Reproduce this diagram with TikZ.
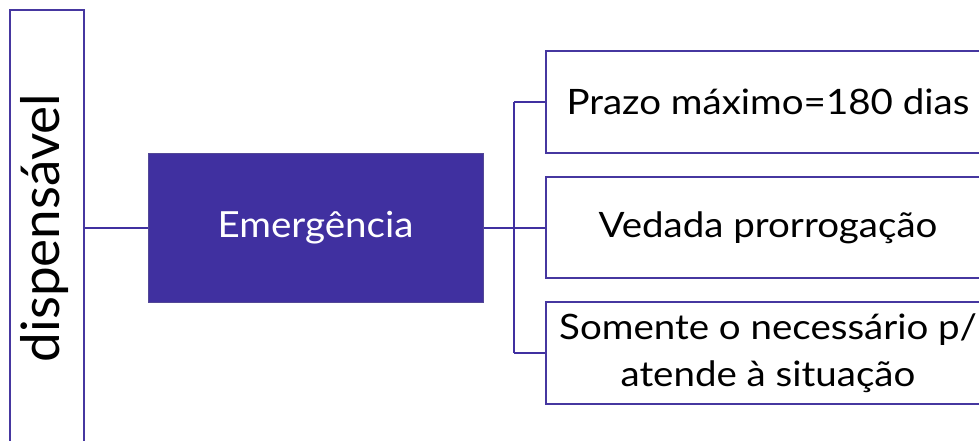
\documentclass[tikz,border=0pt]{standalone}
\usepackage{fontspec}
\setmainfont{Lato}
\definecolor{purp}{RGB}{64,48,160}
\definecolor{edge}{RGB}{70,55,160}
\begin{document}
\begin{tikzpicture}[x=1pt,y=-1pt,
  box/.style={draw=edge,line width=2pt,fill=white,inner sep=0pt,align=center,text=black},
  boxtext/.style={font=\fontsize{35}{47}\selectfont},
  link/.style={draw=purp,line width=2pt}]
\useasboundingbox (0,0) rectangle (979,441);
\clip (0,0) rectangle (979,441);
\node[box,minimum width=74pt,minimum height=436pt] (disp) at (47,228) {};
\node[rotate=90,font=\fontsize{53}{58}\selectfont,inner sep=0pt] (disptext) at (45,228) {dispensável};
\node[draw=purp!70!gray,line width=1pt,fill=purp,minimum width=335pt,minimum height=149pt,text=white,font=\fontsize{36}{40}\selectfont] (emerg) at (315.5,227.5) {\scalebox{1.07}[1]{Emergência}};
\node[box,minimum width=444pt,minimum height=102pt,boxtext] (b1) at (768,102) {\scalebox{1.1}[1]{Prazo máximo=180 dias}};
\node[box,minimum width=444pt,minimum height=101pt,boxtext] (b2) at (768,227.5) {\scalebox{1.1}[1]{Vedada prorrogação}};
\node[box,minimum width=444pt,minimum height=102pt,boxtext] (b3) at (768,353) {\scalebox{1.1}[1]{Somente o necessário p/}\\\scalebox{1.1}[1]{atende à situação}};
\coordinate (fork) at (514,227.5);
\draw[link] (disp.east |- emerg.west) -- (emerg.west);
\draw[link] (emerg.east) -- (fork);
\draw[link] (fork |- b1.west) -- (b1.west);
\draw[link] (fork) -- (b2.west);
\draw[link] (fork |- b3.west) -- (b3.west);
\draw[link] (fork |- b1.west) -- (fork |- b3.west);
\end{tikzpicture}
\end{document}
